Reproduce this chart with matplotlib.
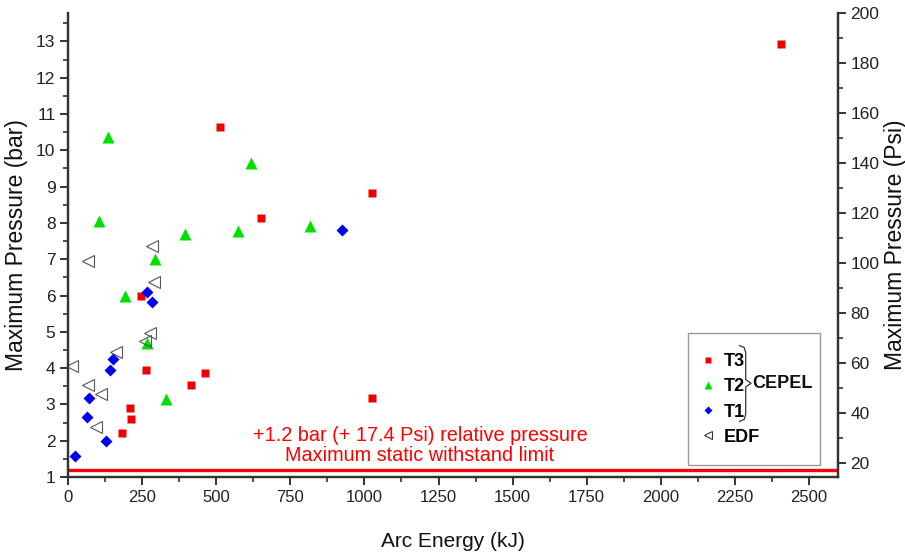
import matplotlib
matplotlib.use("Agg")
import matplotlib.pyplot as plt
from matplotlib import font_manager
from matplotlib.patches import Rectangle
from matplotlib.lines import Line2D
from matplotlib.ticker import MultipleLocator

# data (Arc energy kJ, max pressure bar)
t3_energy = [2405, 512, 1025, 650, 247, 262, 461, 416, 1025, 208, 214, 183]
t3_press = [12.93, 10.65, 8.83, 8.14, 5.98, 3.95, 3.86, 3.53, 3.17, 2.90, 2.59, 2.22]

t2_energy = [135, 617, 105, 816, 396, 572, 293, 193, 265, 331]
t2_press = [10.36, 9.66, 8.05, 7.91, 7.70, 7.78, 7.02, 6.00, 4.70, 3.15]

t1_energy = [925, 265, 282, 151, 143, 71, 64, 129, 23]
t1_press = [7.81, 6.11, 5.83, 4.26, 3.95, 3.19, 2.65, 1.99, 1.59]

edf_energy = [283, 66, 290, 277, 260, 163, 13, 66, 111, 94]
edf_press = [7.37, 6.95, 6.37, 4.96, 4.74, 4.45, 4.05, 3.53, 3.29, 2.37]

limit_bar = 1.2
bar_to_psi = 14.5038

names = {f.name for f in font_manager.fontManager.ttflist}
narrow = "Liberation Sans Narrow" if "Liberation Sans Narrow" in names else "Liberation Sans"
plt.rcParams["font.family"] = ["Liberation Sans", "DejaVu Sans"]

fig = plt.figure(figsize=(9.05, 5.56), dpi=100)
ax = fig.add_axes([0.0751, 0.142, 0.851, 0.835])

ax.plot(t3_energy, t3_press, "s", color="#ee0000", ms=5.5, mec="none", zorder=3)
ax.plot(t2_energy, t2_press, "^", color="#00e000", ms=8, mec="none", zorder=3)
ax.plot(t1_energy, t1_press, "D", color="#0000ee", ms=6.5, mec="none", zorder=3)
ax.plot(edf_energy, edf_press, "<", mfc="none", mec="#555555", mew=0.8, ms=8.5, zorder=4)

ax.axhline(limit_bar, color="#ff0000", lw=2.4, zorder=2)
ax.text(0.457, 0.068, "+1.2 bar (+ 17.4 Psi) relative pressure\nMaximum static withstand limit",
        transform=ax.transAxes, ha="center", va="center", color="#ff0000",
        fontsize=14.3, linespacing=1.05)

ax.set_xlim(0, 2598)
ax.set_ylim(1, 200 / bar_to_psi)
ax.xaxis.set_major_locator(MultipleLocator(250))
ax.xaxis.set_minor_locator(MultipleLocator(125))
ax.yaxis.set_major_locator(MultipleLocator(1))
ax.yaxis.set_minor_locator(MultipleLocator(0.5))

ax2 = ax.twinx()
ax2.set_ylim(1 * bar_to_psi, 200)
ax2.yaxis.set_major_locator(MultipleLocator(20))
ax2.yaxis.set_minor_locator(MultipleLocator(10))

for a in (ax, ax2):
    a.spines["top"].set_visible(False)
    for s in a.spines.values():
        s.set_color("#333333")
        s.set_linewidth(1.6)
    a.tick_params(which="major", direction="out", length=6, width=1.4, color="#333333",
                  labelsize=12.5, labelcolor="#222222", pad=3)
    a.tick_params(which="minor", direction="out", length=3.5, width=1.2, color="#333333")

for lab in ax.get_xticklabels():
    lab.set_family(narrow)
    lab.set_fontsize(12)

ax.set_xlabel("Arc Energy (kJ)", fontsize=15, family=narrow, labelpad=20, color="#111111")
ax.set_ylabel("Maximum Pressure (bar)", fontsize=16.5, labelpad=6, color="#111111")
ax2.set_ylabel("Maximum Pressure (Psi)", fontsize=16.5, labelpad=3, color="#111111")

# legend box with brace
ax.add_patch(Rectangle((0.805, 0.026), 0.172, 0.284, transform=ax.transAxes,
                       fill=False, ec="#999999", lw=1.0, zorder=5, clip_on=False))
handles = [
    Line2D([], [], ls="none", marker="s", color="#ee0000", mec="none", ms=4.5),
    Line2D([], [], ls="none", marker="^", color="#00e000", mec="none", ms=6),
    Line2D([], [], ls="none", marker="D", color="#0000ee", mec="none", ms=4),
    Line2D([], [], ls="none", marker="<", mfc="none", mec="#333333", mew=0.8, ms=5.5),
]
ax.legend(handles, ["T3", "T2", "T1", "EDF"], loc="upper left", bbox_to_anchor=(0.812, 0.282),
          frameon=False, handlelength=0.8, handletextpad=0.5, labelspacing=0.45,
          prop={"family": narrow, "weight": "bold", "size": 13}, borderaxespad=0)

bx0, bx1 = 0.872, 0.887
by_top, by_mid, by_bot = 0.283, 0.202, 0.12
brace_x = [bx0, bx0 + 0.006, bx0 + 0.008, bx0 + 0.008, bx1, bx0 + 0.008, bx0 + 0.008, bx0 + 0.006, bx0]
brace_y = [by_top, by_top - 0.004, by_top - 0.015, by_mid + 0.008, by_mid,
           by_mid - 0.008, by_bot + 0.015, by_bot + 0.004, by_bot]
ax.plot(brace_x, brace_y, color="#333333", lw=0.9, transform=ax.transAxes, zorder=6, clip_on=False)
ax.text(bx1 + 0.002, by_mid, "CEPEL", transform=ax.transAxes, ha="left", va="center",
        family=narrow, weight="bold", fontsize=13, color="#111111")

fig.savefig("out.png", dpi=100)
